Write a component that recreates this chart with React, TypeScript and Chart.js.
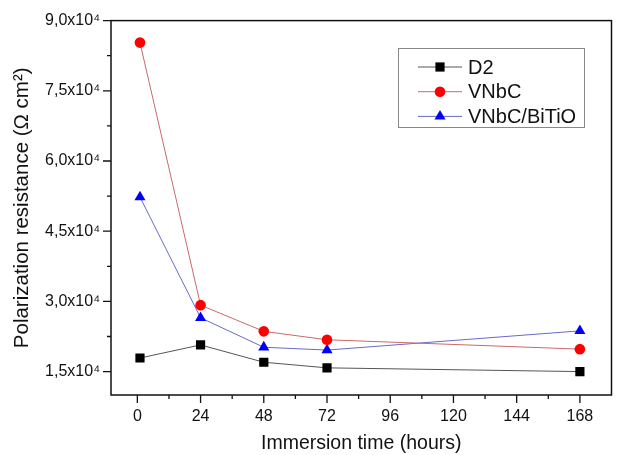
import React, { useEffect, useRef } from "react";
import { Chart, registerables } from "chart.js";

Chart.register(...registerables);

const hours = [1, 24, 48, 72, 168];
const d2 = [1.79e4, 2.07e4, 1.7e4, 1.58e4, 1.5e4];
const vnbc = [8.53e4, 2.92e4, 2.36e4, 2.18e4, 1.98e4];
const vnbcBiTiO = [5.23e4, 2.65e4, 2.02e4, 1.96e4, 2.37e4];
const seriesNames = ["D2", "VNbC", "VNbC/BiTiO"];
const xMajorTicks = [0, 24, 48, 72, 96, 120, 144, 168];
const xMinorTicks = [12, 36, 60, 84, 108, 132, 156];
const yMajorTicks = [15000, 30000, 45000, 60000, 75000, 90000];
const yMinorTicks = [22500, 37500, 52500, 67500, 82500];

const FONT = "'Liberation Sans', Arial, sans-serif";

function drawMarker(ctx: CanvasRenderingContext2D, style: string, x: number, y: number, r: number, color: string) {
  ctx.save();
  ctx.fillStyle = color;
  ctx.beginPath();
  if (style === "rect") {
    const s = r / Math.SQRT2;
    ctx.rect(x - s, y - s, 2 * s, 2 * s);
  } else if (style === "triangle") {
    const ang = (2 * Math.PI) / 3;
    ctx.moveTo(x, y - r);
    ctx.lineTo(x + Math.sin(ang) * r, y - Math.cos(ang) * r);
    ctx.lineTo(x - Math.sin(ang) * r, y - Math.cos(ang) * r);
    ctx.closePath();
  } else {
    ctx.arc(x, y, r, 0, Math.PI * 2);
  }
  ctx.fill();
  ctx.restore();
}

const framePlugin = {
  id: "frameTicksLegend",
  afterDraw(chart: any) {
    const ctx: CanvasRenderingContext2D = chart.ctx;
    const { left, right, top, bottom } = chart.chartArea;
    const xs = chart.scales.x;
    const ys = chart.scales.y;
    ctx.save();
    ctx.strokeStyle = "#111";
    ctx.lineWidth = 1.5;
    ctx.strokeRect(left, top, right - left, bottom - top);
    ctx.lineWidth = 1.3;
    ctx.beginPath();
    xMajorTicks.forEach((v) => {
      const px = xs.getPixelForValue(v);
      ctx.moveTo(px, bottom);
      ctx.lineTo(px, bottom + 8);
    });
    xMinorTicks.forEach((v) => {
      const px = xs.getPixelForValue(v);
      ctx.moveTo(px, bottom);
      ctx.lineTo(px, bottom + 4);
    });
    yMajorTicks.forEach((v) => {
      const py = ys.getPixelForValue(v);
      ctx.moveTo(left, py);
      ctx.lineTo(left - 8, py);
    });
    yMinorTicks.forEach((v) => {
      const py = ys.getPixelForValue(v);
      ctx.moveTo(left, py);
      ctx.lineTo(left - 4, py);
    });
    ctx.stroke();

    // legend
    const bx = 398, by = 48, bw = 186, bh = 79;
    ctx.fillStyle = "#fff";
    ctx.fillRect(bx, by, bw, bh);
    ctx.strokeStyle = "#888";
    ctx.lineWidth = 1;
    ctx.strokeRect(bx + 0.5, by + 0.5, bw, bh);
    chart.data.datasets.forEach((ds: any, i: number) => {
      const y = 67 + i * 24.7;
      ctx.strokeStyle = ds.borderColor;
      ctx.lineWidth = 1;
      ctx.beginPath();
      ctx.moveTo(418, y);
      ctx.lineTo(462, y);
      ctx.stroke();
      drawMarker(ctx, ds.pointStyle, 440, y, ds.pointRadius, ds.pointBackgroundColor);
      ctx.fillStyle = "#111";
      ctx.font = `20px ${FONT}`;
      ctx.textBaseline = "middle";
      ctx.textAlign = "left";
      ctx.fillText(ds.label, 468, y + 1);
    });
    ctx.restore();
  },
};

const fmtY = (v: number) => {
  const m = (v / 10000).toFixed(1).replace(".", ",");
  return `${m}x10\u2074`;
};

export default function App() {
  const ref = useRef<HTMLCanvasElement | null>(null);
  useEffect(() => {
    if (!ref.current) return;
    const mk = (vals: number[]) => hours.map((h, i) => ({ x: h, y: vals[i] }));
    const chart = new Chart(ref.current, {
      type: "line",
      data: {
        datasets: [
          {
            label: seriesNames[0],
            data: mk(d2),
            borderColor: "#555555",
            borderWidth: 1,
            pointStyle: "rect",
            pointRadius: 6.5,
            pointBackgroundColor: "#000000",
            pointBorderWidth: 0,
          },
          {
            label: seriesNames[1],
            data: mk(vnbc),
            borderColor: "#c86a6a",
            borderWidth: 1,
            pointStyle: "circle",
            pointRadius: 5.3,
            pointBackgroundColor: "#ff0000",
            pointBorderWidth: 0,
          },
          {
            label: seriesNames[2],
            data: mk(vnbcBiTiO),
            borderColor: "#6a6ac8",
            borderWidth: 1,
            pointStyle: "triangle",
            pointRadius: 6.4,
            pointBackgroundColor: "#0000ff",
            pointBorderWidth: 0,
          },
        ] as any,
      },
      options: {
        animation: false,
        responsive: false,
        devicePixelRatio: 1,
        layout: { padding: { top: 20, right: 1, left: 0, bottom: 0 } },
        plugins: { legend: { display: false }, tooltip: { enabled: false } },
        elements: { line: { tension: 0 } },
        scales: {
          x: {
            type: "linear",
            min: -10,
            max: 180,
            grid: { display: false, drawTicks: false },
            border: { display: false },
            afterBuildTicks: (s: any) => {
              s.ticks = xMajorTicks.map((v) => ({ value: v }));
            },
            afterFit: (s: any) => {
              s.height = 60;
            },
            ticks: {
              padding: 12,
              maxRotation: 0,
              autoSkip: false,
              color: "#111",
              font: { family: FONT, size: 16 },
              callback: (v: any) => String(v),
            },
            title: {
              display: true,
              text: "Immersion time (hours)",
              color: "#111",
              font: { family: FONT, size: 19.5 },
              padding: { top: 0, bottom: 0 },
            },
          },
          y: {
            type: "linear",
            min: 10000,
            max: 90000,
            grid: { display: false, drawTicks: false },
            border: { display: false },
            afterBuildTicks: (s: any) => {
              s.ticks = yMajorTicks.map((v) => ({ value: v }));
            },
            afterFit: (s: any) => {
              s.width = 111;
            },
            ticks: {
              padding: 11,
              autoSkip: false,
              color: "#111",
              font: { family: FONT, size: 16 },
              callback: (v: any) => fmtY(Number(v)),
            },
            title: {
              display: true,
              text: "Polarization resistance (\u03A9 cm\u00B2)",
              color: "#111",
              font: { family: FONT, size: 20.5 },
              padding: { top: 10, bottom: 0 },
            },
          },
        },
      } as any,
      plugins: [framePlugin],
    });
    return () => chart.destroy();
  }, []);
  return (
    <div style={{ position: "absolute", left: 0, top: 0, width: 618, height: 455, background: "#fff" }}>
      <canvas ref={ref} width={618} height={455} style={{ width: 618, height: 455 }} />
    </div>
  );
}
